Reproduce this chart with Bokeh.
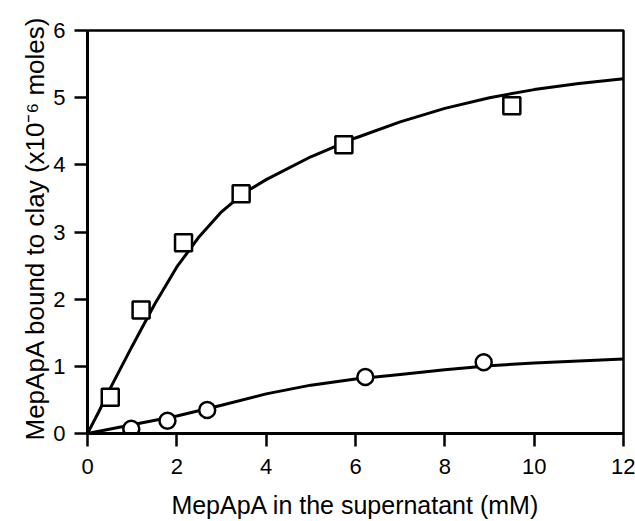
from bokeh.plotting import figure
from bokeh.models import Range1d, FixedTicker, Title
from bokeh.embed import file_html
from bokeh.resources import INLINE

# --- data ---
sq_x = [0.51, 1.20, 2.15, 3.44, 5.74, 9.50]
sq_y = [0.54, 1.84, 2.84, 3.57, 4.30, 4.88]

ci_x = [0.98, 1.79, 2.68, 6.22, 8.87]
ci_y = [0.07, 0.19, 0.35, 0.84, 1.06]

upper_x = [0, 0.25, 0.5, 1.0, 1.5, 2.0, 2.5, 3.0, 3.5, 4.0, 5.0, 6.0, 7.0, 8.0, 9.0, 10.0, 11.0, 12.0]
upper_y = [0, 0.32, 0.66, 1.30, 1.92, 2.48, 2.93, 3.30, 3.58, 3.78, 4.12, 4.40, 4.64, 4.84, 5.00, 5.12, 5.21, 5.28]

lower_x = [0, 1, 2, 3, 4, 5, 6, 7, 8, 9, 10, 11, 12]
lower_y = [0, 0.13, 0.26, 0.42, 0.59, 0.72, 0.81, 0.88, 0.95, 1.01, 1.05, 1.08, 1.11]

x_ticks = [0, 2, 4, 6, 8, 10, 12]
y_ticks = [0, 1, 2, 3, 4, 5, 6]

x_title = "MepApA in the supernatant (mM)"
y_title = "MepApA bound to clay (x10\u207b\u2076 moles)"

FONT = "Liberation Sans"

p = figure(width=635, height=521, x_range=Range1d(0, 12), y_range=Range1d(0, 6),
           output_backend="svg", toolbar_location=None,
           min_border_left=87, min_border_right=12, min_border_top=30, min_border_bottom=86)
p.grid.visible = False
p.background_fill_color = "white"
p.border_fill_color = "white"
p.outline_line_color = "black"
p.outline_line_width = 2.5
p.outline_line_alpha = 1.0

for ax, ticks in ((p.xaxis, x_ticks), (p.yaxis, y_ticks)):
    ax.ticker = FixedTicker(ticks=ticks)
    ax.axis_line_width = 3
    ax.axis_line_color = "black"
    ax.major_tick_line_width = 2.5
    ax.major_tick_line_color = "black"
    ax.major_tick_out = 13
    ax.major_tick_in = 0
    ax.minor_tick_line_color = None
    ax.major_label_text_font = FONT
    ax.major_label_text_font_size = "22px"
    ax.major_label_text_color = "black"
p.xaxis.major_label_standoff = 12
p.yaxis.major_label_standoff = 9

p.xaxis.axis_label = x_title
p.xaxis.axis_label_text_font = FONT
p.xaxis.axis_label_text_font_size = "25px"
p.xaxis.axis_label_text_font_style = "normal"
p.xaxis.axis_label_text_color = "black"
p.xaxis.axis_label_standoff = 14

# y-axis title as a side title (lets it start below the frame like the reference)
p.add_layout(Title(text=y_title, align="left", offset=-7, standoff=2,
                   vertical_align="bottom", text_font=FONT, text_font_size="26px",
                   text_font_style="normal", text_color="black"), "left")

# curves
p.line(upper_x, upper_y, line_color="black", line_width=3)
p.line(lower_x, lower_y, line_color="black", line_width=3)

# markers
p.scatter(sq_x, sq_y, marker="square", size=17, fill_color="white",
          line_color="black", line_width=2.5)
p.scatter(ci_x, ci_y, marker="circle", size=16, fill_color="white",
          line_color="black", line_width=2.5)

open("out.html", "w").write(file_html(p, INLINE))
